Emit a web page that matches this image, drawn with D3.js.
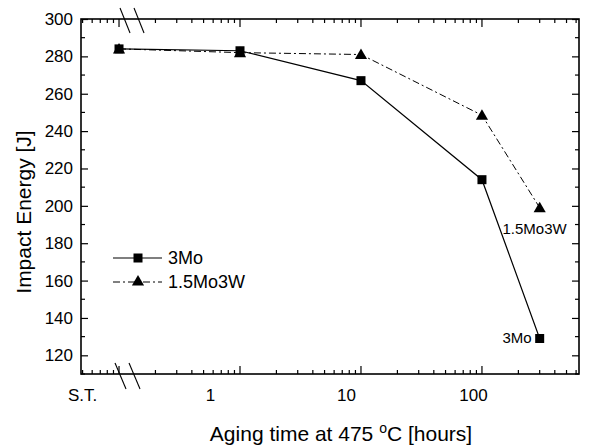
<!DOCTYPE html>
<html>
<head>
<meta charset="utf-8">
<script src="https://cdn.jsdelivr.net/npm/d3@7"></script>
<style>
  body { margin: 0; background: #fff; }
  text { font-family: "Liberation Sans", Arial, sans-serif; fill: #000; }
</style>
</head>
<body>
<div id="chart"></div>
<script>
// aging time in hours, S.T. (solution treated) is drawn at 0.1
const hours = [0.1, 1, 10, 100, 300];
const mo3 = [284, 283, 267, 214, 129];
const mo15w3 = [284, 282, 281, 248.5, 199];
const xTickValues = [0.1, 1, 10, 100];
const xTickLabels = ["S.T.", "1", "10", "100"];
const labelNudge = [-37, -30, -15, -9];   // the labels in the scan sit left of their ticks
const yTicks = [120, 140, 160, 180, 200, 220, 240, 260, 280, 300];

const W = 589, H = 446;
const margin = { top: 19, right: 10, bottom: 72, left: 81 },
  width = W - margin.left - margin.right,
  height = H - margin.top - margin.bottom;

const svg = d3.select("#chart")
  .append("svg")
  .attr("width", W)
  .attr("height", H);

const g = svg.append("g")
  .attr("transform", `translate(${margin.left},${margin.top})`);

const x = d3.scaleLog()
  .domain([0.0485, 634])
  .range([0, width]);

const y = d3.scaleLinear()
  .domain([110, 300])
  .range([height, 0]);

// frame
g.append("rect")
  .attr("width", width)
  .attr("height", height)
  .attr("fill", "none")
  .attr("stroke", "#000")
  .attr("stroke-width", 1.6);

// log ticks on bottom and top, pointing inward
const allX = x.ticks();
const isMajor = v => Math.abs(Math.log10(v) - Math.round(Math.log10(v))) < 1e-9;
allX.forEach(v => {
  const len = isMajor(v) ? 8 : 4;
  const px = x(v);
  g.append("line").attr("x1", px).attr("x2", px).attr("y1", height).attr("y2", height - len)
    .attr("stroke", "#000").attr("stroke-width", 1.2);
  g.append("line").attr("x1", px).attr("x2", px).attr("y1", 0).attr("y2", len)
    .attr("stroke", "#000").attr("stroke-width", 1.2);
});

// x tick labels
g.append("g")
  .attr("transform", `translate(0,${height})`)
  .call(d3.axisBottom(x).tickValues(xTickValues).tickSize(0).tickPadding(15)
    .tickFormat((d, i) => xTickLabels[i]))
  .call(a => a.select(".domain").remove())
  .selectAll("text")
  .attr("dx", (d, i) => labelNudge[i])
  .style("font-size", "17px");

// y axis left, with labels
g.append("g")
  .call(d3.axisLeft(y).tickValues(yTicks).tickSizeInner(-7).tickSizeOuter(0).tickPadding(8))
  .call(a => a.select(".domain").remove())
  .call(a => a.selectAll("line").attr("stroke-width", 1.2))
  .selectAll("text")
  .style("font-size", "17px");

// y axis right, ticks only
g.append("g")
  .attr("transform", `translate(${width},0)`)
  .call(d3.axisRight(y).tickValues(yTicks).tickSizeInner(-7).tickSizeOuter(0).tickFormat(""))
  .call(a => a.select(".domain").remove())
  .call(a => a.selectAll("line").attr("stroke-width", 1.2));

// minor y ticks
d3.range(110, 300, 20).forEach(v => {
  g.append("line").attr("x1", 0).attr("x2", 4).attr("y1", y(v)).attr("y2", y(v))
    .attr("stroke", "#000").attr("stroke-width", 1.2);
  g.append("line").attr("x1", width).attr("x2", width - 4).attr("y1", y(v)).attr("y2", y(v))
    .attr("stroke", "#000").attr("stroke-width", 1.2);
});

// axis break marks
const bx = x(0.1);
[0, 14].forEach(off => {
  g.append("line")
    .attr("x1", bx + off + 1).attr("y1", -11).attr("x2", bx + off + 11).attr("y2", 14)
    .attr("stroke", "#000").attr("stroke-width", 1.1);
  g.append("line")
    .attr("x1", bx + off - 4).attr("y1", height - 11).attr("x2", bx + off + 7).attr("y2", height + 15)
    .attr("stroke", "#000").attr("stroke-width", 1.1);
});

const line = d3.line().x(d => x(d[0])).y(d => y(d[1]));
const triangle = d3.symbol().type(d3.symbolTriangle).size(64);

// 1.5Mo3W series
const wData = hours.map((h, i) => [h, mo15w3[i]]);
g.append("path")
  .datum(wData)
  .attr("d", line)
  .attr("fill", "none")
  .attr("stroke", "#000")
  .attr("stroke-width", 1)
  .attr("stroke-dasharray", "7,3,2,3");
g.selectAll(".tri")
  .data(wData)
  .join("path")
  .attr("transform", d => `translate(${x(d[0])},${y(d[1]) + 1})`)
  .attr("d", triangle);

// 3Mo series
const mData = hours.map((h, i) => [h, mo3[i]]);
g.append("path")
  .datum(mData)
  .attr("d", line)
  .attr("fill", "none")
  .attr("stroke", "#000")
  .attr("stroke-width", 1.2);
g.selectAll(".sq")
  .data(mData)
  .join("rect")
  .attr("x", d => x(d[0]) - 4.5)
  .attr("y", d => y(d[1]) - 4.5)
  .attr("width", 9)
  .attr("height", 9);

// end labels
g.append("text")
  .attr("x", x(300) + 27)
  .attr("y", y(199) + 26)
  .attr("text-anchor", "end")
  .style("font-size", "15px")
  .text("1.5Mo3W");
g.append("text")
  .attr("x", x(300) - 8)
  .attr("y", y(129) + 4)
  .attr("text-anchor", "end")
  .style("font-size", "15px")
  .text("3Mo");

// legend
const legend = g.append("g").attr("transform", "translate(32,239)");
legend.append("line").attr("x1", 0).attr("x2", 49).attr("y1", 0).attr("y2", 0)
  .attr("stroke", "#000").attr("stroke-width", 1.2);
legend.append("rect").attr("x", 20.5).attr("y", -4.5).attr("width", 9).attr("height", 9);
legend.append("text").attr("x", 55).attr("y", 6).style("font-size", "18px").text("3Mo");
legend.append("line").attr("x1", 0).attr("x2", 49).attr("y1", 24).attr("y2", 24)
  .attr("stroke", "#000").attr("stroke-width", 1).attr("stroke-dasharray", "7,3,2,3");
legend.append("path").attr("transform", "translate(25,24)").attr("d", triangle);
legend.append("text").attr("x", 55).attr("y", 30).style("font-size", "18px").text("1.5Mo3W");

// axis titles
svg.append("text")
  .attr("text-anchor", "middle")
  .attr("transform", `translate(31,212)rotate(-90)`)
  .style("font-size", "21px")
  .text("Impact Energy [J]");

const xt = svg.append("text")
  .attr("text-anchor", "middle")
  .attr("x", 341)
  .attr("y", 441)
  .style("font-size", "21px");
xt.append("tspan").text("Aging time at 475 ");
xt.append("tspan").attr("dy", -8).style("font-size", "14px").text("o");
xt.append("tspan").attr("dy", 8).text("C [hours]");
</script>
</body>
</html>
